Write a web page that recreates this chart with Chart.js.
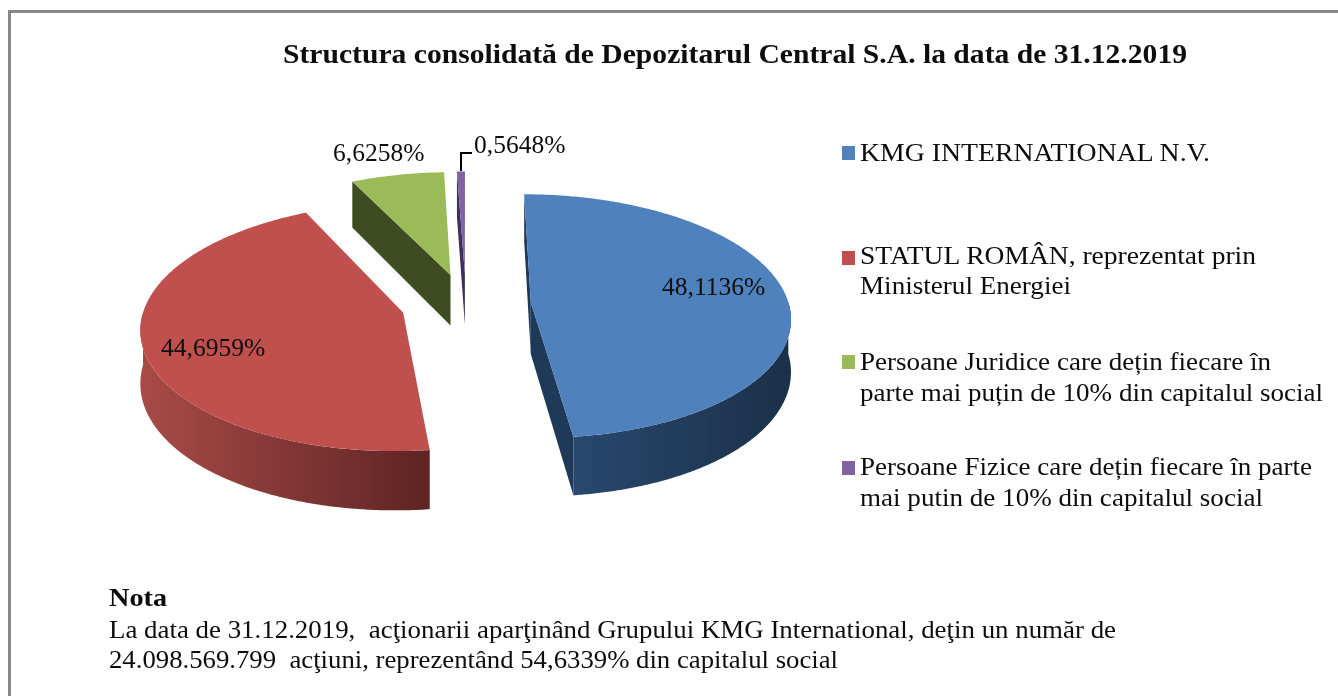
<!DOCTYPE html>
<html><head><meta charset="utf-8">
<script src="https://cdn.jsdelivr.net/npm/chart.js@4"></script>
<style>
html,body{margin:0;padding:0;background:#fff;overflow:hidden}
#wrap{position:relative;width:1338px;height:696px;overflow:hidden}
#c{position:absolute;left:0;top:0}
.t{position:absolute;white-space:pre;font-family:"Liberation Serif",serif;color:#0d0d0d;transform-origin:0 0;line-height:1}
.k{position:absolute;width:13px;height:14px}
#bt{position:absolute;left:8px;top:10px;right:0;height:3px;background:#878787}
#bl{position:absolute;left:8px;top:10px;bottom:0;width:3px;background:#878787}
</style></head><body>
<div id="wrap"><canvas id="c" width="1338" height="696"></canvas><div id="bt"></div><div id="bl"></div></div>
<script>
// ---- data ----
const categories = ["KMG INTERNATIONAL N.V.",
  "STATUL ROMÂN, reprezentat prin Ministerul Energiei",
  "Persoane Juridice care dețin fiecare în parte mai puțin de 10% din capitalul social",
  "Persoane Fizice care dețin fiecare în parte mai putin de 10% din capitalul social"];
const values = [48.1136, 44.6959, 6.6258, 0.5648];
const titleText = "Structura consolidată de Depozitarul Central S.A. la data de 31.12.2019";
const legendLines = [["KMG INTERNATIONAL N.V."],
  ["STATUL ROMÂN, reprezentat prin","Ministerul Energiei"],
  ["Persoane Juridice care dețin fiecare în","parte mai puțin de 10% din capitalul social"],
  ["Persoane Fizice care dețin fiecare în parte","mai putin de 10% din capitalul social"]];
const noteHead = "Nota";
const noteLines = ["La data de 31.12.2019,  acţionarii aparţinând Grupului KMG International, deţin un număr de",
  "24.098.569.799  acţiuni, reprezentând 54,6339% din capitalul social"];

// ---- style ----
const topColors = ["#4f81bd","#c0504d","#9bbb59","#8064a2"];
const explode = [65,65,66,66];
const rimStops = [["#28486e","#1b3049"],["#a94b47","#5d2423"],["#3f4c21","#3f4c21"],["#3f2f5c","#3f2f5c"]];
const cutColors = ["#1f3a59","#5f2625","#3f4c21","#3f2f5c"];
const R = 258, KY = 0.4675, P = 0.114, DEPTH = 52;
const labelAnchors = [[662,295],[161,356],[333,161],[474,153]];

function pct(v){return v.toFixed(4).replace('.',',')+'%';}

const pie3d = {
  id:'pie3d',
  beforeDatasetDraw(chart){
    const ctx = chart.ctx, arcs = chart.getDatasetMeta(0).data;
    const cx = arcs[0].x, cy = arcs[0].y;
    const proj = (x,y,z)=>{ const s = 1/(1 - P*y/R); return [cx + x*s, cy + (KY*y + z)*s]; };
    const poly = (pts,fill)=>{ ctx.beginPath(); pts.forEach((p,i)=> i?ctx.lineTo(p[0],p[1]):ctx.moveTo(p[0],p[1])); ctx.closePath(); ctx.fillStyle=fill; ctx.fill(); };
    [3,2,1,0].forEach(i=>{
      const a = arcs[i], mid=(a.startAngle+a.endAngle)/2, d=a.options.offset;
      const ox=Math.cos(mid)*d, oy=Math.sin(mid)*d, r=a.outerRadius;
      const pt=(t,z)=>proj(ox+r*Math.cos(t),oy+r*Math.sin(t),z);
      const n=Math.max(2,Math.ceil((a.endAngle-a.startAngle)/0.01));
      const A0=proj(ox,oy,0),A1=proj(ox,oy,DEPTH);
      const area=q=>{let s=0;q.forEach((p,k)=>{const o=q[(k+1)%q.length];s+=p[0]*o[1]-o[0]*p[1];});return s;};
      const qs=[A0,pt(a.startAngle,0),pt(a.startAngle,DEPTH),A1];
      if(area(qs)<0) poly(qs,cutColors[i]);
      const qe=[A0,pt(a.endAngle,0),pt(a.endAngle,DEPTH),A1];
      if(area(qe)>0) poly(qe,cutColors[i]);
      // outer rim (front part)
      const lo=Math.max(a.startAngle,0), hi=Math.min(a.endAngle,Math.PI);
      if(hi>lo){
        const tp=[],bt=[];
        for(let k=0;k<=200;k++){const t=lo+(hi-lo)*k/200;tp.push(pt(t,0));bt.unshift(pt(t,DEPTH));}
        const xs=tp.concat(bt).map(p=>p[0]);
        const g=ctx.createLinearGradient(Math.min(...xs),0,Math.max(...xs),0);
        g.addColorStop(0,rimStops[i][0]);g.addColorStop(1,rimStops[i][1]);
        poly(tp.concat(bt),g);
      }
      const top=[A0];
      for(let k=0;k<=n;k++){top.push(pt(a.startAngle+(a.endAngle-a.startAngle)*k/n,0));}
      poly(top,topColors[i]);
    });
    return false;
  },
  afterDatasetsDraw(chart){
    const ctx=chart.ctx;
    ctx.save();
    ctx.strokeStyle='#000';ctx.lineWidth=2;ctx.beginPath();
    ctx.moveTo(461,171);ctx.lineTo(461,153);ctx.lineTo(472,153);ctx.stroke();
    ctx.font='25.5px "Liberation Serif"';ctx.fillStyle='#0d0d0d';ctx.textBaseline='alphabetic';
    values.forEach((v,i)=>ctx.fillText(pct(v),labelAnchors[i][0],labelAnchors[i][1]));
    ctx.restore();
  }
};

new Chart(document.getElementById('c'),{
  type:'pie',
  data:{labels:categories,datasets:[{data:values,backgroundColor:topColors,offset:explode,borderWidth:0}]},
  options:{responsive:false,animation:false,radius:R,
    layout:{padding:{left:0,top:0,right:406,bottom:88}},
    plugins:{legend:{display:false},title:{display:false},tooltip:{enabled:false}}},
  plugins:[pie3d]
});

// ---- text ----
const wrap=document.getElementById('wrap');
function line(txt,x0,x1,base,size,bold){
  const e=document.createElement('div');e.className='t';e.textContent=txt;
  e.style.fontSize=size+'px';e.style.fontWeight=bold?'700':'400';e.style.left=x0+'px';
  wrap.appendChild(e);
  const w=e.getBoundingClientRect().width;
  e.style.top=(base-size*0.891-(e.getBoundingClientRect().height-size*1.107)/2)+'px';
  e.style.transform='scaleX('+((x1-x0)/w)+')';
}
line(titleText,283,1187,64,27,true);
const lg=[[[1210,162]],[[1256,265],[1071,295]],[[1271,371],[1323,402]],[[1312,476],[1263,507]]];
const keyTops=[146,251,355,461];
legendLines.forEach((ls,i)=>{
  const k=document.createElement('div');k.className='k';k.style.left='842px';k.style.top=keyTops[i]+'px';k.style.background=topColors[i];wrap.appendChild(k);
  ls.forEach((t,j)=>line(t,860,lg[i][j][0],lg[i][j][1],26,false));
});
line(noteHead,109,167,607,26,true);
line(noteLines[0],109,1116,639,26,false);
line(noteLines[1],109,838,669,26,false);
</script></body></html>
